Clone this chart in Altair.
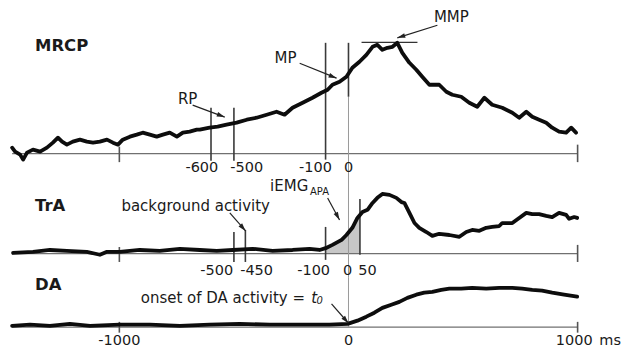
import math
import altair as alt
import pandas as pd

# ---------------- data ----------------
# time axis in ms
MRCP_MS = [-1468, -1455, -1433, -1420, -1403, -1377, -1346, -1316, -1290, -1268, -1250, -1229, -1203, -1172,
           -1142, -1115, -1085, -1054, -1028, -1006, -985, -954, -924, -898, -867, -837, -810, -780, -749, -723,
           -693, -662, -649, -606, -571, -532, -488, -444, -401, -357, -314, -279, -244, -200, -157, -118, -91,
           -70, -39, -9, 17, 48, 78, 105, 126, 148, 170, 192, 213, 235, 266, 296, 322, 353, 396, 427, 453, 492,
           527, 562, 593, 627, 671, 715, 745, 776, 802, 832, 863, 889, 919, 950, 972, 993]
MRCP_UV = [0.6, 0.2, -0.1, -0.6, 0.1, 0.4, 0.2, 0.6, 1.1, 1.6, 1.2, 0.9, 1.2, 1.4, 1.2, 1.1, 1.2, 1.4, 1.1, 0.9,
           1.4, 1.7, 1.9, 2.1, 1.9, 1.7, 1.9, 2.1, 1.7, 2.1, 2.2, 2.4, 2.4, 2.6, 2.7, 2.9, 3.1, 3.4, 3.6, 3.9, 4.2,
           3.9, 4.6, 5.1, 5.6, 6.1, 6.4, 6.9, 7.2, 7.7, 8.6, 9.2, 9.9, 10.7, 10.9, 10.4, 10.6, 10.7, 11.1, 10.1,
           9.1, 8.4, 7.7, 6.9, 6.9, 6.2, 5.9, 5.7, 5.1, 4.7, 5.6, 4.9, 4.6, 4.1, 3.6, 4.2, 3.7, 3.4, 3.1, 2.6,
           2.2, 2.1, 2.6, 2.1]

TRA_MS = [-1464, -1377, -1303, -1229, -1142, -1085, -1054, -998, -911, -824, -736, -649, -575, -505, -418, -331,
          -244, -170, -126, -100, -70, -30, -9, 17, 39, 50, 61, 83, 105, 126, 148, 179, 209, 231, 244, 266, 288,
          309, 340, 366, 396, 440, 484, 514, 540, 571, 601, 627, 658, 671, 715, 745, 776, 802, 832, 863, 889,
          919, 950, 963, 985, 998]
TRA_PCT = [1, 3, 6, 4.5, 3, -2, 3, 3, 6, 4.5, 8, 6, 4.5, 6, 8, 4.5, 6, 8, 6, 9, 14.5, 23, 31, 43, 59.5, 64.5,
           69.5, 73, 84.5, 93, 99.5, 98, 93, 86, 84.5, 68, 51, 43, 36, 29.5, 33, 31, 28, 36, 39.5, 38, 43, 44.5,
           46, 51, 51, 59.5, 68, 66, 66, 63, 61, 68, 64.5, 58, 61, 59.5]

DA_MS = [-1468, -1390, -1303, -1216, -1128, -998, -867, -736, -606, -475, -344, -214, -83, -4, 39, 78, 113, 148,
         187, 222, 257, 296, 331, 366, 405, 440, 492, 540, 601, 658, 715, 758, 802, 845, 889, 941, 998]
DA_PCT = [3, 6, 3, 8, 3, 6, 6, 3, 6, 8, 6, 6, 6, 8, 16, 26, 36, 48, 56, 63, 73, 81, 86, 88, 93, 96, 96, 98, 96,
          98, 98, 96, 93, 91, 86, 81, 76]

# marker lines (ms) with their vertical extent (panel units)
MRCP_MARK_MS = [-600, -500, -100, 0]
MRCP_MARK_TOP = [4.6, 4.6, 11.1, 11.1]
MRCP_MARK_BOT = [-0.7, -0.7, -0.6, 5.7]
TRA_MARK_MS = [-500, -450, -100, 50]
TRA_MARK_TOP = [36, 39.5, 44.5, 91]
TRA_MARK_BOT = [-14, -14, -10.5, -2]
IEMG_WINDOW = [-100, 50]
MMP_LEVEL = 11.15
MMP_SPAN = [57, 301]

AXIS_SPAN = [-1468, 1000]
END_TICKS = [-1000, 1000]

MRCP_TICK_TEXT = ["-600", "-500", "-100", "0"]
MRCP_TICK_POS = [-640, -444, -144, 0]
TRA_TICK_TEXT = ["-500", "-450", "-100", "0", "50"]
TRA_TICK_POS = [-575, -401, -152, -4, 83]
DA_TICK_TEXT = ["-1000", "0", "1000", "ms"]
DA_TICK_POS = [-1000, 0, 985, 1142]

# ---------------- layout ----------------
W = 613
X_DOMAIN = [-1486, 1185]
KX = W / (X_DOMAIN[1] - X_DOMAIN[0])
A_H, A_DOM = 168, [-2.24, 14.56]
B_H, B_DOM = 102, [-40.5, 129.5]
C_H, C_DOM = 69, [-49.25, 123.25]

FONT = "DejaVu Sans"
INK = "#1a1a1a"
TXT = 15
TICK = 14.5
XS = alt.Scale(domain=X_DOMAIN, nice=False, zero=False)


def ysc(dom):
    return alt.Scale(domain=dom, nice=False, zero=False)


def X(f="ms"):
    return alt.X(f"{f}:Q", scale=XS, axis=None)


def Y(dom, f="v"):
    return alt.Y(f"{f}:Q", scale=ysc(dom), axis=None)


def curve(ms, vals, dom):
    df = pd.DataFrame({"ms": ms, "v": vals})
    return alt.Chart(df).mark_line(color="#0d0d0d", strokeWidth=3.8, strokeJoin="round",
                                   strokeCap="round").encode(x=X(), y=Y(dom))


def vrules(ms, top, bot, dom, color, width):
    df = pd.DataFrame({"ms": ms, "v": top, "v2": bot})
    return alt.Chart(df).mark_rule(color=color, strokeWidth=width).encode(
        x=X(), y=Y(dom), y2=alt.Y2("v2:Q"))


def axis_layers(dom, tick_top, tick_bot):
    df = pd.DataFrame({"ms": [AXIS_SPAN[0]], "ms2": [AXIS_SPAN[1]], "v": [0]})
    line = alt.Chart(df).mark_rule(color="#707070", strokeWidth=1.2).encode(
        x=X(), x2=alt.X2("ms2:Q"), y=Y(dom))
    ticks = vrules(END_TICKS, tick_top, tick_bot, dom, "#555555", 1.6)
    return [line, ticks]


def texts(labels, ms, vals, dom, size=TXT, align="center", weight="normal", style="normal"):
    df = pd.DataFrame({"t": labels, "ms": ms, "v": vals})
    return alt.Chart(df).mark_text(font=FONT, fontSize=size, color=INK, align=align, baseline="middle",
                                   fontWeight=weight, fontStyle=style).encode(
        x=X(), y=Y(dom), text="t:N")


def arrow(x1, y1, x2, y2, dom, ky):
    df = pd.DataFrame({"ms": [x1], "ms2": [x2], "v": [y1], "v2": [y2]})
    seg = alt.Chart(df).mark_rule(color="#222222", strokeWidth=1.2).encode(
        x=X(), x2=alt.X2("ms2:Q"), y=Y(dom), y2=alt.Y2("v2:Q"))
    dxs = (x2 - x1) * KX
    dys = -(y2 - y1) * ky
    n = math.hypot(dxs, dys)
    ux, uy = dxs / n, dys / n
    ang = math.degrees(math.atan2(dxs, -dys)) % 360
    cx = x2 - 4 * ux / KX
    cy = y2 + 4 * uy / ky
    head = alt.Chart(pd.DataFrame({"ms": [cx], "v": [cy]})).mark_point(
        shape="M0,-1L0.6,1L-0.6,1Z", filled=True, color="#222222", opacity=1, size=64, angle=ang,
        strokeWidth=0).encode(x=X(), y=Y(dom))
    return [seg, head]


KA = A_H / (A_DOM[1] - A_DOM[0])
KB = B_H / (B_DOM[1] - B_DOM[0])
KC = C_H / (C_DOM[1] - C_DOM[0])

# ---------------- MRCP panel ----------------
a_layers = []
a_layers += axis_layers(A_DOM, [0.7, 0.9], [-0.85, -0.85])
a_layers.append(vrules([0], [5.7], [A_DOM[0]], A_DOM, "#9a9a9a", 1.0))
a_layers.append(vrules(MRCP_MARK_MS, MRCP_MARK_TOP, MRCP_MARK_BOT, A_DOM, "#3a3a3a", 1.6))
mmp = pd.DataFrame({"ms": [MMP_SPAN[0]], "ms2": [MMP_SPAN[1]], "v": [MMP_LEVEL]})
a_layers.append(alt.Chart(mmp).mark_rule(color="#333333", strokeWidth=1.3).encode(
    x=X(), x2=alt.X2("ms2:Q"), y=Y(A_DOM)))
a_layers.append(curve(MRCP_MS, MRCP_UV, A_DOM))
a_layers += arrow(388, 12.86, 213, 11.6, A_DOM, KA)
a_layers += arrow(-213, 9.06, -52, 7.56, A_DOM, KA)
a_layers += arrow(-680, 4.86, -540, 3.66, A_DOM, KA)
a_layers.append(texts(["MMP", "MP", "RP"], [449, -275, -702], [13.66, 9.56, 5.46], A_DOM))
a_layers.append(texts(MRCP_TICK_TEXT, MRCP_TICK_POS, [-1.44] * 4, A_DOM, size=TICK))
a_layers.append(texts(["MRCP"], [-1368], [10.76], A_DOM, size=16.5, align="left", weight="bold"))
panel_a = alt.layer(*a_layers).properties(width=W, height=A_H)

# ---------------- TrA panel ----------------
b_layers = []
iemg = pd.DataFrame({"ms": TRA_MS, "v": TRA_PCT})
iemg = iemg[(iemg.ms >= IEMG_WINDOW[0]) & (iemg.ms <= IEMG_WINDOW[1])]
b_layers.append(alt.Chart(iemg).mark_area(color="#bdbdbd", opacity=0.85).encode(
    x=X(), y=Y(B_DOM), y2=alt.datum(0)))
b_layers += axis_layers(B_DOM, [11, 14.5], [-14, -14])
b_layers.append(vrules([0], [B_DOM[1]], [B_DOM[0]], B_DOM, "#9a9a9a", 1.0))
b_layers.append(vrules(TRA_MARK_MS, TRA_MARK_TOP, TRA_MARK_BOT, B_DOM, "#3a3a3a", 1.6))
b_layers.append(curve(TRA_MS, TRA_PCT, B_DOM))
b_layers += arrow(-518, 67.8, -449, 37.8, B_DOM, KB)
b_layers += arrow(-91, 92.8, -39, 56.2, B_DOM, KB)
b_layers.append(texts(["background activity"], [-667], [79.2], B_DOM))
b_layers.append(texts(["iEMG"], [-342], [112.5], B_DOM, align="left"))
b_layers.append(texts(["APA"], [-168], [102.0], B_DOM, size=10, align="left"))
b_layers.append(texts(TRA_TICK_TEXT, TRA_TICK_POS, [-28.8] * 5, B_DOM, size=TICK))
b_layers.append(texts(["TrA"], [-1368], [79.2], B_DOM, size=16.5, align="left", weight="bold"))
panel_b = alt.layer(*b_layers).properties(width=W, height=B_H)

# ---------------- DA panel ----------------
c_layers = []
c_layers += axis_layers(C_DOM, [13, 13], [-14, -14])
c_layers.append(vrules([0], [C_DOM[1]], [0], C_DOM, "#9a9a9a", 1.0))
c_layers.append(curve(DA_MS, DA_PCT, C_DOM))
c_layers += arrow(-74, 58.25, 0, 9.5, C_DOM, KC)
c_layers.append(texts(["onset of DA activity ="], [-190], [73.25], C_DOM, align="right"))
c_layers.append(texts(["t"], [-150], [73.25], C_DOM, style="italic"))
c_layers.append(texts(["0"], [-126], [64.5], C_DOM, size=10, style="italic"))
c_layers.append(texts(DA_TICK_TEXT, DA_TICK_POS, [-34.25] * 4, C_DOM, size=TICK))
c_layers.append(texts(["DA"], [-1368], [105.75], C_DOM, size=16.5, align="left", weight="bold"))
panel_c = alt.layer(*c_layers).properties(width=W, height=C_H)

chart = alt.vconcat(panel_a, panel_b, panel_c, spacing=0, bounds="flush").properties(
    padding=0, background="white"
).configure_view(stroke=None)

chart.save("out.html", embed_options={"renderer": "svg", "actions": False})
